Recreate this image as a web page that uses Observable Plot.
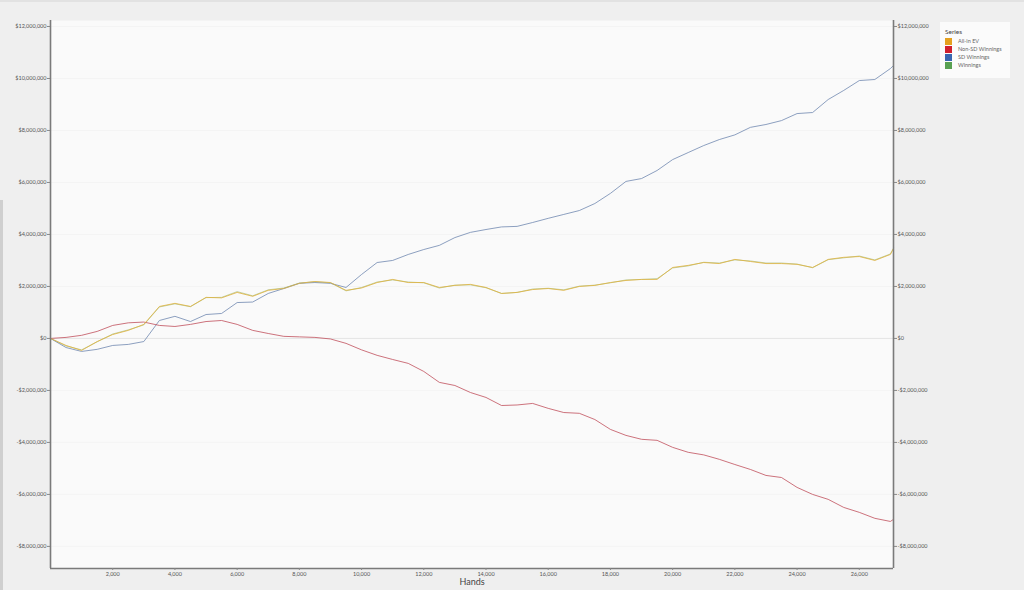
<!DOCTYPE html>
<html>
<head>
<meta charset="utf-8">
<script src="https://cdn.jsdelivr.net/npm/d3@7"></script>
<script src="https://cdn.jsdelivr.net/npm/@observablehq/plot@0.6"></script>
<style>
  html, body { margin: 0; padding: 0; background: #efefef; width: 1024px; height: 590px; overflow: hidden; font-family: Lato, "Open Sans", sans-serif; }
  #wrap { position: relative; width: 1024px; height: 590px; }
  #topbar { position: absolute; left: 0; top: 0; width: 1024px; height: 2px; background: #e2e2e2; }
  #sidebar { position: absolute; left: 0; top: 200px; width: 3px; height: 390px; background: #cfcfcf; }
  #legend { position: absolute; left: 940px; top: 22px; width: 70px; height: 56px; background: #fbfbfb; box-sizing: border-box; padding: 6px 0 0 5px; }
  #legend .t { font-size: 6.5px; color: #444; margin-bottom: 2px; }
  #legend .r { display: flex; align-items: center; height: 8px; font-size: 5.5px; color: #666; }
  #legend .s { width: 7px; height: 7px; margin-right: 6px; }
</style>
</head>
<body>
<div id="wrap"><div id="topbar"></div><div id="sidebar"></div><div id="chart"></div><div id="legend"></div></div>
<script>
// Hands (x values)
const hands = [0,500,1000,1500,2000,2500,3000,3500,4000,4500,5000,5500,6000,6500,7000,7500,8000,8500,9000,9500,
  10000,10500,11000,11500,12000,12500,13000,13500,14000,14500,15000,15500,16000,16500,17000,17500,18000,18500,19000,19500,
  20000,20500,21000,21500,22000,22500,23000,23500,24000,24500,25000,25500,26000,26500,27000,27100];

// Values in millions of dollars
const allInEV = [0,-0.27,-0.46,-0.12,0.15,0.31,0.54,1.23,1.35,1.23,1.58,1.56,1.77,1.62,1.85,1.92,2.12,2.19,2.15,1.85,
  1.94,2.15,2.27,2.15,2.15,1.96,2.04,2.08,1.96,1.73,1.77,1.88,1.92,1.85,2.0,2.04,2.15,2.23,2.27,2.27,
  2.73,2.81,2.92,2.88,3.04,2.96,2.88,2.88,2.85,2.73,3.04,3.12,3.15,3.0,3.23,3.46];
const nonSDWinnings = [0,0.04,0.12,0.27,0.5,0.6,0.63,0.5,0.46,0.54,0.65,0.69,0.54,0.31,0.19,0.08,0.06,0.04,-0.02,-0.19,
  -0.44,-0.65,-0.81,-0.96,-1.27,-1.69,-1.81,-2.08,-2.27,-2.58,-2.56,-2.5,-2.69,-2.85,-2.88,-3.12,-3.5,-3.73,-3.88,-3.92,
  -4.19,-4.38,-4.48,-4.65,-4.85,-5.04,-5.27,-5.35,-5.73,-6.0,-6.19,-6.5,-6.69,-6.92,-7.04,-6.96];
const sdWinnings = [0,-0.35,-0.5,-0.42,-0.27,-0.23,-0.12,0.69,0.85,0.65,0.92,0.96,1.38,1.4,1.73,1.92,2.12,2.15,2.12,1.96,
  2.46,2.92,3.0,3.23,3.42,3.58,3.88,4.08,4.19,4.29,4.31,4.46,4.62,4.77,4.92,5.19,5.58,6.04,6.15,6.46,
  6.88,7.15,7.42,7.65,7.83,8.12,8.23,8.38,8.65,8.69,9.19,9.54,9.92,9.96,10.38,10.5];
const winnings = [0,-0.29,-0.44,-0.13,0.17,0.33,0.52,1.21,1.33,1.22,1.57,1.58,1.8,1.64,1.87,1.94,2.13,2.18,2.14,1.83,
  1.96,2.17,2.25,2.17,2.14,1.94,2.05,2.06,1.95,1.73,1.77,1.9,1.93,1.87,2.01,2.05,2.14,2.25,2.27,2.3,
  2.71,2.79,2.93,2.9,3.02,2.98,2.9,2.9,2.86,2.72,3.03,3.1,3.17,3.02,3.25,3.47];

const seriesNames = ["All-in EV", "Non-SD Winnings", "SD Winnings", "Winnings"];
const legendColors = ["#e5a01e", "#d0202e", "#3a66b0", "#58a052"];
const lineColors = ["#e0b13c", "#c0505c", "#7088b0", "#8aa850"];
const yTicks = [-8e6,-6e6,-4e6,-2e6,0,2e6,4e6,6e6,8e6,10e6,12e6];
const xTicks = [2000,4000,6000,8000,10000,12000,14000,16000,18000,20000,22000,24000,26000];

const seriesValues = [allInEV, nonSDWinnings, sdWinnings, winnings];
const rows = [];
seriesValues.forEach((vals, si) => {
  vals.forEach((v, i) => rows.push({series: seriesNames[si], hands: hands[i], value: v * 1e6}));
});
const drawOrder = ["Winnings", "SD Winnings", "Non-SD Winnings", "All-in EV"];

const money = d => (d < 0 ? "-" : "") + "$" + d3.format(",")(Math.abs(d));
const xDomain = [0, 27100];
const yDomain = [-8850000, 12230000];

const chart = Plot.plot({
  width: 1024,
  height: 590,
  marginLeft: 50,
  marginRight: 131,
  marginTop: 20,
  marginBottom: 22,
  style: {background: "transparent", fontFamily: "Lato, 'Open Sans', sans-serif"},
  x: {domain: xDomain},
  y: {domain: yDomain},
  color: {domain: seriesNames, range: lineColors},
  marks: [
    Plot.frame({fill: "#fafafa", stroke: null}),
    Plot.ruleY(yTicks, {stroke: "#f2f2f2", strokeWidth: 0.8}),
    Plot.ruleY([0], {stroke: "#e4e4e4", strokeWidth: 1}),
    ...drawOrder.map(name => Plot.line(rows.filter(r => r.series === name), {
      x: "hands", y: "value", stroke: "series", strokeWidth: 1,
      strokeOpacity: name === "Winnings" ? 0.5 : 0.8
    })),
    Plot.ruleX([xDomain[0]], {stroke: "#7a7a7a", strokeWidth: 1.6}),
    Plot.ruleX([xDomain[1]], {stroke: "#7a7a7a", strokeWidth: 1.6}),
    Plot.ruleY([yDomain[0]], {stroke: "#7a7a7a", strokeWidth: 1.6}),
    Plot.axisY({anchor: "left", ticks: yTicks, tickFormat: money, tickSize: 3, tickPadding: 1, fontSize: 5.5, stroke: "#888", color: "#555", label: null}),
    Plot.axisY({anchor: "right", ticks: yTicks, tickFormat: money, tickSize: 3, tickPadding: 1, fontSize: 5.5, stroke: "#888", color: "#555", label: null}),
    Plot.axisX({ticks: xTicks, tickFormat: d3.format(","), tickSize: 2, tickPadding: 2, fontSize: 5.5, stroke: "#888", color: "#555", label: null}),
    Plot.text(["Hands"], {frameAnchor: "bottom", lineAnchor: "top", dy: 10, fontSize: 9, fill: "#444"})
  ]
});
document.getElementById("chart").appendChild(chart);

const leg = document.getElementById("legend");
const t = document.createElement("div"); t.className = "t"; t.textContent = "Series"; leg.appendChild(t);
seriesNames.forEach((n, i) => {
  const r = document.createElement("div"); r.className = "r";
  const s = document.createElement("div"); s.className = "s"; s.style.background = legendColors[i];
  const l = document.createElement("span"); l.textContent = n;
  r.appendChild(s); r.appendChild(l); leg.appendChild(r);
});
</script>
</body>
</html>
